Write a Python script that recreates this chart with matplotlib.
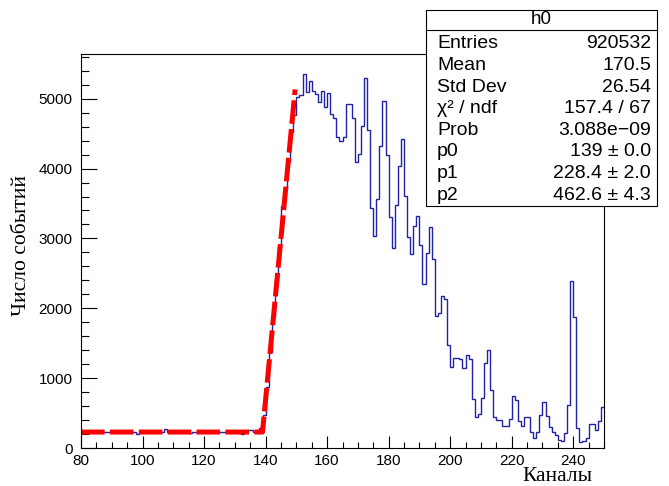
import numpy as np
import matplotlib
matplotlib.use("Agg")
import matplotlib.pyplot as plt
from matplotlib.patches import Rectangle
from matplotlib.lines import Line2D
from matplotlib.ticker import MultipleLocator

plt.rcParams['lines.scale_dashes'] = False

# Histogram h0: one bin per channel, 80..250
channel_edges = np.arange(80, 251)
counts = [
    # 80-89
    228, 232, 226, 230, 229, 225, 231, 227, 229, 233,
    # 90-99
    226, 230, 228, 224, 231, 229, 227, 222, 205, 226,
    # 100-109
    229, 231, 226, 230, 228, 232, 227, 268, 230, 226,
    # 110-119
    229, 231, 225, 228, 230, 212, 227, 229, 231, 226,
    # 120-129
    228, 230, 227, 236, 240, 229, 226, 231, 228, 225,
    # 130-139
    229, 227, 203, 230, 262, 258, 232, 248, 292, 470,
    # 140-149
    880, 1380, 1880, 2400, 2880, 3470, 3710, 4090, 4520, 4760,
    # 150-159
    5020, 5050, 5350, 5090, 5260, 5110, 5070, 4950, 5110, 4880,
    # 160-169
    5080, 4780, 4730, 4450, 4390, 4450, 4920, 4920, 4720, 4090,
    # 170-179
    4210, 4610, 5290, 4550, 3430, 3030, 3570, 4330, 4970, 4200,
    # 180-189
    3310, 2860, 3480, 4040, 4430, 3610, 3020, 2780, 3180, 3320,
    # 190-199
    2900, 2350, 2790, 3170, 2710, 1890, 1930, 2170, 2140, 1470,
    # 200-209
    1160, 1290, 1290, 1270, 1140, 1330, 1270, 700, 440, 480,
    # 210-219
    710, 1210, 1410, 830, 440, 400, 400, 320, 320, 410,
    # 220-229
    740, 680, 380, 320, 450, 440, 230, 140, 230, 470,
    # 230-239
    660, 460, 300, 230, 180, 120, 100, 210, 610, 2390,
    # 240-249
    1870, 280, 80, 100, 150, 340, 340, 260, 390, 580,
]

# Fit: constant p1 below threshold p0, then linear rise with slope p2
fit_p0, fit_p1, fit_p2 = 139.0, 228.4, 462.6
fit_xmin, fit_xmax = 80.0, 149.6

stats_title = "h0"
stats_labels = ["Entries", "Mean", "Std Dev", "χ² / ndf", "Prob", "p0", "p1", "p2"]
stats_values = ["920532", "170.5", "26.54", "157.4 / 67", "3.088e\u221209",
                "139 ± 0.0", "228.4 ± 2.0", "462.6 ± 4.3"]

x_title = "Каналы"
y_title = "Число событий"

W, H = 669, 486
fig = plt.figure(figsize=(W / 100, H / 100), dpi=100)

def fx(px):
    return px / W

def fy(py):
    return 1 - py / H

ax = fig.add_axes([fx(81), fy(448), (604 - 81) / W, (448 - 54) / H])

ax.stairs(counts, channel_edges, color='#2222a4', lw=1.0, baseline=None)

xf = np.linspace(fit_xmin, fit_xmax, 500)
yf = np.where(xf < fit_p0, fit_p1, fit_p1 + fit_p2 * (xf - fit_p0))
ax.plot(xf, yf, color='#ff0000', lw=3.6, dashes=(17, 3.8), dash_capstyle='butt')

ax.set_xlim(80, 250)
ax.set_ylim(0, 5640)

ax.xaxis.set_major_locator(MultipleLocator(20))
ax.xaxis.set_minor_locator(MultipleLocator(5))
ax.yaxis.set_major_locator(MultipleLocator(1000))
ax.yaxis.set_minor_locator(MultipleLocator(200))

ax.tick_params(axis='both', which='both', direction='in', top=False, right=False,
               width=0.8, colors='black')
ax.tick_params(axis='x', which='major', length=8.5, pad=4)
ax.tick_params(axis='x', which='minor', length=4.2)
ax.tick_params(axis='y', which='major', length=11.3, pad=6)
ax.tick_params(axis='y', which='minor', length=5.6)
for lab in ax.get_xticklabels() + ax.get_yticklabels():
    lab.set_fontfamily('Liberation Sans')
    lab.set_fontsize(11)
for sp in ax.spines.values():
    sp.set_linewidth(0.8)
    sp.set_color('black')

fig.text(fx(22), fy(245), y_title, rotation=90, ha='center', va='center',
         family='Liberation Serif', fontsize=15.5)
fig.text(fx(593), fy(476), x_title, ha='right', va='center',
         family='Liberation Serif', fontsize=15.5)

# Statistics box
bx0, bx1, by0, by1 = 426, 657, 10, 206
fig.add_artist(Rectangle((fx(bx0), fy(by1)), (bx1 - bx0) / W, (by1 - by0) / H,
                         transform=fig.transFigure, facecolor='white',
                         edgecolor='black', lw=0.8, zorder=5))
fig.add_artist(Line2D([fx(bx0), fx(bx1)], [fy(30), fy(30)],
                      transform=fig.transFigure, color='black', lw=0.8, zorder=6))
fig.text(fx((bx0 + bx1) / 2), fy(19.5), stats_title, ha='center', va='center',
         family='Liberation Sans', fontsize=13.5, zorder=7)
for i, (lab, val) in enumerate(zip(stats_labels, stats_values)):
    yc = 44 + 21.6 * i
    fig.text(fx(437), fy(yc), lab, ha='left', va='center',
             family='Liberation Sans', fontsize=14, zorder=7)
    fig.text(fx(651), fy(yc), val, ha='right', va='center',
             family='Liberation Sans', fontsize=14, zorder=7)

fig.savefig("out.png", dpi=100, facecolor='white')
